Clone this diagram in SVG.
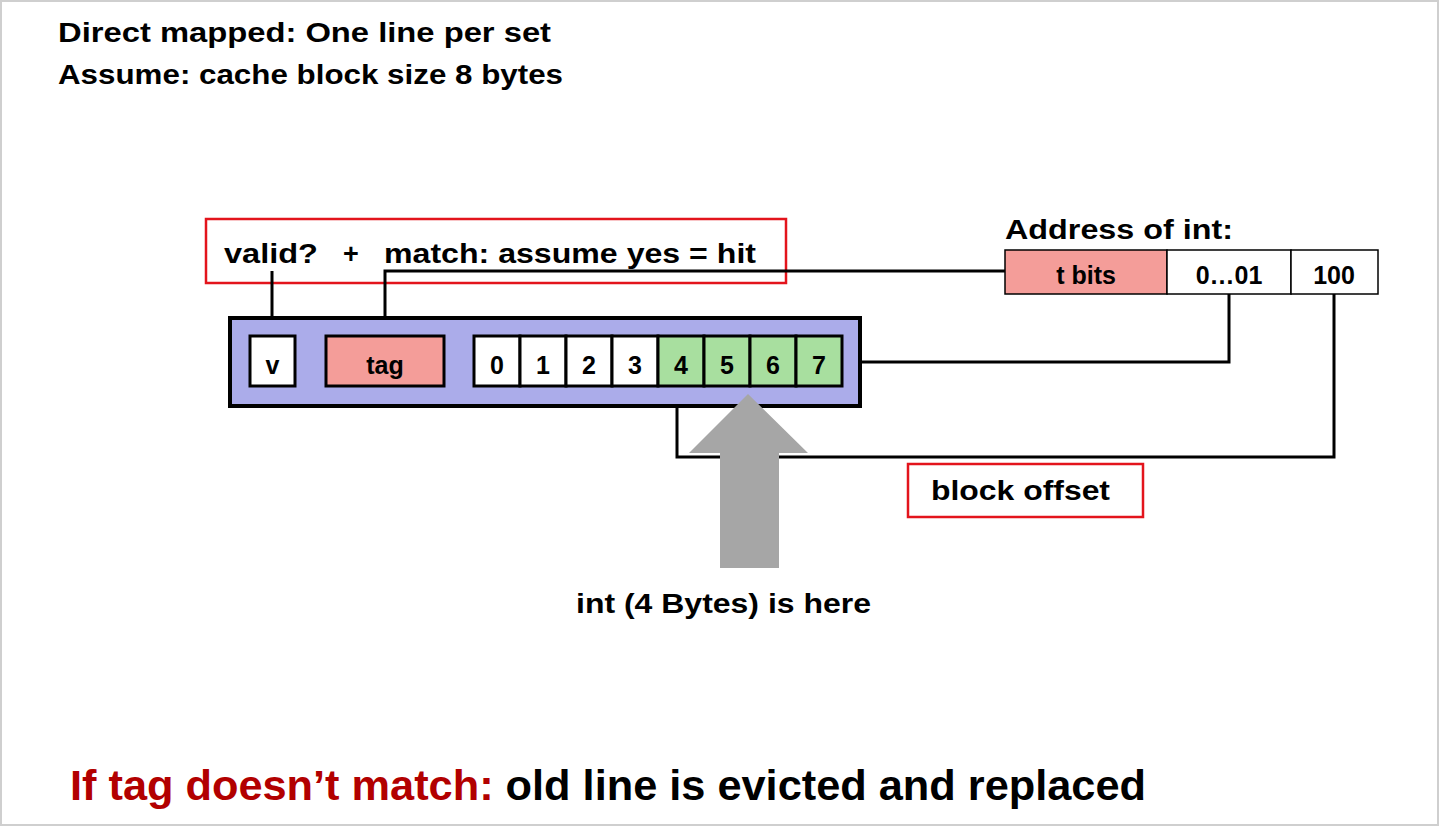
<svg xmlns="http://www.w3.org/2000/svg" width="1440" height="828" viewBox="0 0 1440 828">
  <style>
    .t { font-family: "Liberation Sans", Arial, sans-serif; font-weight: bold; fill: #000; }
    .c { text-anchor: middle; }
    .cell { stroke: #000; stroke-width: 3; }
    .wire { fill: none; stroke: #000; stroke-width: 3; }
    .note { fill: none; stroke: #e3141c; stroke-width: 2.5; }
  </style>

  <!-- slide frame -->
  <rect x="1" y="1" width="1437" height="824" fill="#fff" stroke="#cfcfcf" stroke-width="2"/>

  <!-- heading -->
  <g id="heading">
    <text class="t" x="58" y="42" font-size="27" textLength="493" lengthAdjust="spacingAndGlyphs">Direct mapped: One line per set</text>
    <text class="t" x="58" y="84" font-size="27" textLength="505" lengthAdjust="spacingAndGlyphs">Assume: cache block size 8 bytes</text>
  </g>

  <!-- hit condition note (outline only, wires pass through it) -->
  <g id="hit-note">
    <rect class="note" x="206" y="219" width="580" height="64"/>
    <text class="t" x="224" y="263" font-size="27" textLength="94" lengthAdjust="spacingAndGlyphs">valid?</text>
    <text class="t c" x="351" y="263" font-size="27">+</text>
    <text class="t" x="384" y="263" font-size="27" textLength="372" lengthAdjust="spacingAndGlyphs">match: assume yes = hit</text>
  </g>

  <!-- connectors -->
  <g id="connectors">
    <polyline class="wire" points="272,271 272,336"/>
    <polyline class="wire" points="385,336 385,271 1006,271"/>
    <polyline class="wire" points="1229,294 1229,362 860,362"/>
    <polyline class="wire" points="1334,294 1334,457 677,457 677,386"/>
  </g>

  <!-- address of the int -->
  <g id="address">
    <text class="t" x="1005" y="239" font-size="27" textLength="228" lengthAdjust="spacingAndGlyphs">Address of int:</text>
    <rect x="1005" y="250" width="162" height="44" fill="#f49d99" stroke="#000" stroke-width="1.5"/>
    <rect x="1167" y="250" width="124" height="44" fill="#fff" stroke="#000" stroke-width="1.5"/>
    <rect x="1291" y="250" width="87" height="44" fill="#fff" stroke="#000" stroke-width="1.5"/>
    <text class="t c" x="1086" y="284" font-size="25">t bits</text>
    <text class="t c" x="1229" y="284" font-size="25">0…01</text>
    <text class="t c" x="1334" y="284" font-size="25">100</text>
  </g>

  <!-- cache line -->
  <g id="cache-line">
    <rect x="230" y="318" width="630" height="88" fill="#abacea" stroke="#000" stroke-width="4"/>
    <rect class="cell" x="250" y="336" width="45" height="50" fill="#fff"/>
    <text class="t c" x="272.5" y="374" font-size="25">v</text>
    <rect class="cell" x="326" y="336" width="118" height="50" fill="#f49d99"/>
    <text class="t c" x="385" y="374" font-size="25">tag</text>
    <rect class="cell" x="474" y="336" width="46" height="50" fill="#fff"/>
    <rect class="cell" x="520" y="336" width="46" height="50" fill="#fff"/>
    <rect class="cell" x="566" y="336" width="46" height="50" fill="#fff"/>
    <rect class="cell" x="612" y="336" width="46" height="50" fill="#fff"/>
    <rect class="cell" x="658" y="336" width="46" height="50" fill="#a8df9f"/>
    <rect class="cell" x="704" y="336" width="46" height="50" fill="#a8df9f"/>
    <rect class="cell" x="750" y="336" width="46" height="50" fill="#a8df9f"/>
    <rect class="cell" x="796" y="336" width="46" height="50" fill="#a8df9f"/>
    <text class="t c" x="497" y="374" font-size="25">0</text>
    <text class="t c" x="543" y="374" font-size="25">1</text>
    <text class="t c" x="589" y="374" font-size="25">2</text>
    <text class="t c" x="635" y="374" font-size="25">3</text>
    <text class="t c" x="681" y="374" font-size="25">4</text>
    <text class="t c" x="727" y="374" font-size="25">5</text>
    <text class="t c" x="773" y="374" font-size="25">6</text>
    <text class="t c" x="819" y="374" font-size="25">7</text>
  </g>

  <!-- pointer to the int -->
  <g id="int-pointer">
    <polygon points="748,394 808,453 779,453 779,568 720,568 720,453 689,453" fill="#a6a6a6"/>
    <text class="t" x="576" y="613" font-size="27" textLength="295" lengthAdjust="spacingAndGlyphs">int (4 Bytes) is here</text>
  </g>

  <!-- block offset label -->
  <g id="block-offset">
    <rect class="note" x="908" y="464" width="235" height="53"/>
    <text class="t" x="931" y="500" font-size="27" textLength="179" lengthAdjust="spacingAndGlyphs">block offset</text>
  </g>

  <!-- miss rule -->
  <g id="miss-rule">
    <text class="t" x="70" y="800" font-size="43" textLength="1076" lengthAdjust="spacingAndGlyphs"><tspan fill="#b20000">If tag doesn’t match:</tspan> old line is evicted and replaced</text>
  </g>
</svg>
